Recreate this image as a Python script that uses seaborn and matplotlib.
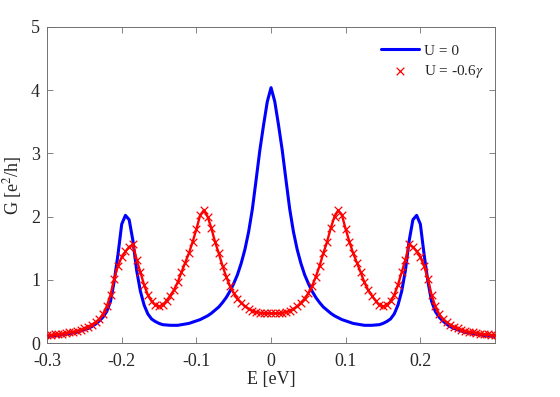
import numpy as np
import pandas as pd
import matplotlib
matplotlib.use("Agg")
import matplotlib.pyplot as plt
import seaborn as sns

# energy grid of the calculation
energy = np.linspace(-0.3, 0.3, 121)

# conductance for U = 0
g_u0 = [
    0.10, 0.11, 0.115, 0.12, 0.13, 0.14, 0.15, 0.16, 0.17, 0.19,
    0.21, 0.23, 0.26, 0.30, 0.35, 0.41, 0.50, 0.66, 0.98, 1.40,
    1.88, 2.02, 1.95, 1.62, 1.15, 0.82, 0.60, 0.46, 0.38, 0.34,
    0.31, 0.29, 0.285, 0.28, 0.28, 0.28, 0.29, 0.30, 0.31, 0.33,
    0.35, 0.37, 0.40, 0.43, 0.47, 0.52, 0.57, 0.64, 0.72, 0.82,
    0.94, 1.08, 1.26, 1.48, 1.76, 2.12, 2.58, 3.05, 3.45, 3.82,
    4.04,
    3.82, 3.45, 3.05, 2.58, 2.12, 1.76, 1.48, 1.26, 1.08, 0.94,
    0.82, 0.72, 0.64, 0.57, 0.52, 0.47, 0.43, 0.40, 0.37, 0.35,
    0.33, 0.31, 0.30, 0.29, 0.28, 0.28, 0.28, 0.285, 0.29, 0.31,
    0.34, 0.38, 0.46, 0.60, 0.82, 1.15, 1.62, 1.95, 2.02, 1.88,
    1.40, 0.98, 0.66, 0.50, 0.41, 0.35, 0.30, 0.26, 0.23, 0.21,
    0.19, 0.17, 0.16, 0.15, 0.14, 0.13, 0.12, 0.115, 0.11, 0.10,
]

# conductance for U = -0.6 gamma
g_u06 = [
    0.12, 0.13, 0.135, 0.14, 0.15, 0.16, 0.17, 0.18, 0.19, 0.21,
    0.23, 0.26, 0.29, 0.33, 0.38, 0.46, 0.58, 0.76, 1.02, 1.22,
    1.36, 1.45, 1.52, 1.56, 1.32, 1.12, 0.92, 0.76, 0.66, 0.60,
    0.58, 0.60, 0.67, 0.75, 0.84, 0.96, 1.12, 1.27, 1.42, 1.60,
    1.80, 2.02, 2.10, 2.00, 1.82, 1.60, 1.42, 1.22, 1.05, 0.90,
    0.79, 0.70, 0.64, 0.58, 0.54, 0.51, 0.49, 0.48, 0.47, 0.47,
    0.47,
    0.47, 0.47, 0.48, 0.49, 0.51, 0.54, 0.58, 0.64, 0.70, 0.79,
    0.90, 1.05, 1.22, 1.42, 1.60, 1.82, 2.00, 2.10, 2.02, 1.80,
    1.60, 1.42, 1.27, 1.12, 0.96, 0.84, 0.75, 0.67, 0.60, 0.58,
    0.60, 0.66, 0.76, 0.92, 1.12, 1.32, 1.56, 1.52, 1.45, 1.36,
    1.22, 1.02, 0.76, 0.58, 0.46, 0.38, 0.33, 0.29, 0.26, 0.23,
    0.21, 0.19, 0.18, 0.17, 0.16, 0.15, 0.14, 0.135, 0.13, 0.12,
]

x_ticks = [-0.3, -0.2, -0.1, 0.0, 0.1, 0.2]
x_tick_labels = ["-0.3", "-0.2", "-0.1", "0", "0.1", "0.2"]
y_ticks = [0, 1, 2, 3, 4, 5]

df = pd.DataFrame({"E": energy, "U0": g_u0, "U06": g_u06})

sns.set_style("ticks")
plt.rcParams["font.family"] = ["Liberation Serif", "DejaVu Serif"]
plt.rcParams["mathtext.fontset"] = "stix"

axis_gray = "#707070"
text_gray = "#262626"

fig = plt.figure(figsize=(5.6, 3.97), dpi=100)
ax = fig.add_axes([0.084, 0.136, 0.8, 0.796])

sns.lineplot(data=df, x="E", y="U0", ax=ax, color="#0000ff", linewidth=2.2,
             label="U = 0")
sns.lineplot(data=df, x="E", y="U06", ax=ax, color="#ff0000", linewidth=1.7)
sns.scatterplot(data=df, x="E", y="U06", ax=ax, color="#ff0000", marker="x",
                s=30, linewidth=0.9, label=r"U = -0.6$\gamma$", zorder=3)

ax.set_xlim(-0.3, 0.3)
ax.set_ylim(0, 5)
ax.set_xticks(x_ticks)
ax.set_xticklabels(x_tick_labels)
ax.set_yticks(y_ticks)
ax.tick_params(direction="in", length=4, width=0.6, color=axis_gray,
               labelcolor=text_gray, labelsize=13, top=True, right=True)
ax.tick_params(axis="x", pad=7)
ax.tick_params(axis="y", pad=5)
for side in ["left", "right", "top", "bottom"]:
    ax.spines[side].set_visible(True)
    ax.spines[side].set_color(axis_gray)
    ax.spines[side].set_linewidth(0.7)

ax.set_xlabel("E [eV]", fontsize=13, color=text_gray, labelpad=1)
ax.set_ylabel(r"G [e$^2$/h]", fontsize=13, color=text_gray, labelpad=5)

leg = ax.legend(loc="upper right", bbox_to_anchor=(0.995, 0.975), frameon=False,
                fontsize=11, handlelength=2.5, handletextpad=0.3,
                labelspacing=0.35, borderaxespad=0.2)
for t in leg.get_texts():
    t.set_color(text_gray)

fig.savefig("out.png", dpi=100)
